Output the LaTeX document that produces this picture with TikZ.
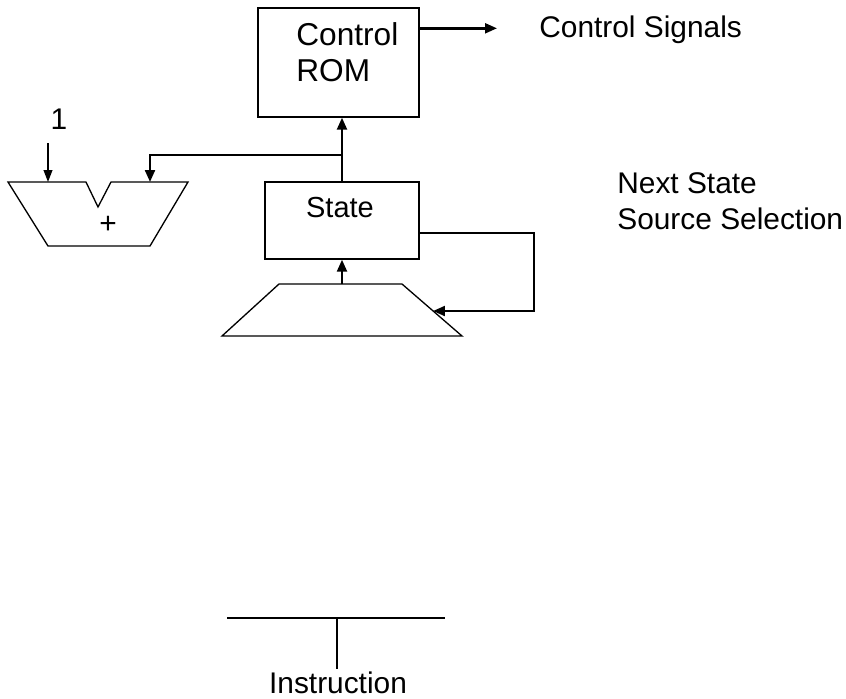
\documentclass[tikz,border=0pt]{standalone}
\usepackage{fontspec}
\setmainfont{Liberation Sans}
\usepackage{tikz}
\usetikzlibrary{positioning, arrows.meta, calc}

\tikzset{
    blk/.style={draw, line width=0.75pt, inner sep=0pt},
    conn/.style={line width=1.4pt, -{Triangle[length=6.8pt,width=5.6pt]}},
    wire/.style={line width=1.4pt},
    thin/.style={line width=0.75pt},
    lbl/.style={font=\fontsize{17}{20.4}\selectfont, inner sep=0pt},
}

\begin{document}
\begin{tikzpicture}[x=0.02cm, y=-0.02cm]

\useasboundingbox (0,0) rectangle (846,698);

% control store and state register
\node[blk, minimum width=3.22cm, minimum height=2.18cm] (rom) at (338.5,62.5) {};
\node[lbl, font=\fontsize{18}{20.4}\selectfont, anchor=base west] (romL) at (296,45.7) {
    \begin{tabular}[t]{@{}l@{}}
    Control\\
    ROM
    \end{tabular}
    };

\node[blk, minimum width=3.08cm, minimum height=1.54cm] (state) at (342,220.5) {};
\node[lbl, font=\fontsize{16.5}{19}\selectfont, anchor=base] (stateL) at (340,217.3) {State};

% outputs
\coordinate (sigS) at (419,28.3);
\coordinate (sigE) at (497,28.3);
\draw[conn] (sigS) -- (sigE);
\node[lbl, anchor=base west] (signals) at (539,37.3) {Control Signals};

\node[lbl, anchor=base west] (nextsel) at (617,193.3) {
    \begin{tabular}[t]{@{}l@{}}
    Next State\\
    Source Selection
    \end{tabular}
    };

% -------

% incrementer
\coordinate (addA) at (48,182);
\coordinate (addB) at (150,182);
\draw[thin] (8,182) -- (86,182) -- (98,207) -- (111,182) -- (188,182)
    -- (150,246) -- (48,246) -- cycle;
\node[lbl] (plus) at (108,225) {+};
\node[lbl, anchor=base] (one) at (59,129) {1};
\coordinate (oneS) at (48,143);
\draw[thin, -{Triangle[length=6.8pt,width=5pt]}] (oneS) -- (addA);

% next state mux
\coordinate (muxT) at (342,284);
\coordinate (muxR) at (433,311);
\draw[thin] (279,284) -- (402,284) -- (462,336) -- (222,336) -- cycle;

% -------

\coordinate (jn) at (state.north |- 0,155);
\draw[conn] (state.north) -- (state.north |- rom.south);
\draw[conn] (jn) -| (addB);
\draw[conn] (muxT) -- (state.south);

\coordinate (fbS) at (419,233);
\draw[conn] (fbS) -- (534,233) |- (muxR);

% instruction bus
\coordinate (busL) at (227,618);
\coordinate (busR) at (445,618);
\coordinate (busM) at (337,618);
\draw[wire] (busL) -- (busR);
\node[lbl, anchor=base] (instr) at (338,693) {Instruction};
\draw[wire] (busM) -- (busM |- 0,669);

\end{tikzpicture}
\end{document}
